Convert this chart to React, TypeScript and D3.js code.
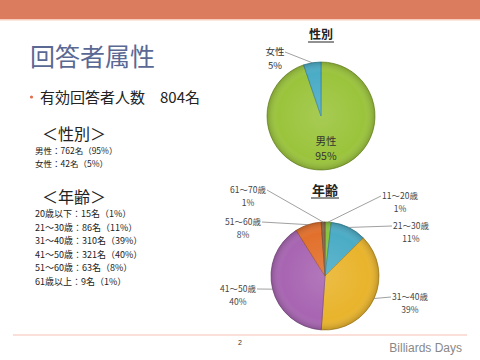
import * as d3 from "d3";

// slide text
const titleText = "回答者属性";
const bulletText = "有効回答者人数　804名";
const genderHead = "＜性別＞";
const ageHead = "＜年齢＞";
const genderSummary = ["男性：762名（95%）", "女性：42名（5%）"];
const ageSummary = [
  "20歳以下：15名（1%）",
  "21～30歳：86名（11%）",
  "31～40歳：310名（39%）",
  "41～50歳：321名（40%）",
  "51～60歳：63名（8%）",
  "61歳以上：9名（1%）",
];

// pie data
const genderLabels = ["男性", "女性"];
const genderCounts = [762, 42];
const genderPct = ["95%", "5%"];
const genderColors = ["#9BC43C", "#4BACC6"];

const ageLabels = ["11～20歳", "21～30歳", "31～40歳", "41～50歳", "51～60歳", "61～70歳"];
const ageCounts = [15, 86, 310, 321, 63, 9];
const agePct = ["1%", "11%", "39%", "40%", "8%", "1%"];
const ageColors = ["#86C441", "#4BACC6", "#E9B42C", "#A865B2", "#E2702C", "#8C6A4A"];

// label placement (layout only)
const ageLabelAt: [number, number, number][] = [
  [400, 199, -1],
  [411, 229, -1],
  [410, 300, -1],
  [238, 292, 1],
  [243, 225, 1],
  [248, 193, 1],
];

const JP = "'Noto Sans CJK JP', 'Noto Sans', sans-serif";
const R = 54;

function Pie({ cx, cy, counts, colors, id }) {
  const arcs = d3.pie<number>().sort(null).value((d) => d)(counts);
  const arc = d3.arc<d3.PieArcDatum<number>>().innerRadius(0).outerRadius(R);
  return (
    <g transform={`translate(${cx},${cy})`}>
      {arcs.map((a, i) => (
        <path
          key={i}
          d={arc(a) || ""}
          fill={colors[i]}
          stroke={d3.color(colors[i])!.darker(0.8).toString()}
          strokeWidth={0.8}
        />
      ))}
      <circle r={R} fill={`url(#${id})`} pointerEvents="none" />
    </g>
  );
}

export default function App() {
  const gcx = 321, gcy = 116;
  const acx = 325, acy = 276;
  const genderArcs = d3.pie<number>().sort(null).value((d) => d)(genderCounts);
  const ageArcs = d3.pie<number>().sort(null).value((d) => d)(ageCounts);
  const outer = (a: d3.PieArcDatum<number>, r: number) => {
    const m = (a.startAngle + a.endAngle) / 2;
    return [Math.sin(m) * r, -Math.cos(m) * r];
  };

  const [mx, my] = outer(genderArcs[0], 30);
  const [fx, fy] = outer(genderArcs[1], R);

  return (
    <svg width={480} height={360} style={{ position: "absolute", left: 0, top: 0 }}>
      <defs>
        {["shadeA", "shadeB"].map((id) => (
          <radialGradient key={id} id={id}>
            <stop offset="0%" stopColor="#fff" stopOpacity={0.12} />
            <stop offset="80%" stopColor="#fff" stopOpacity={0} />
            <stop offset="100%" stopColor="#000" stopOpacity={0.18} />
          </radialGradient>
        ))}
      </defs>
      <rect width={480} height={360} fill="#fff" />
      <rect width={480} height={19} fill="#DC7C5E" />
      <rect y={19} width={480} height={1.5} fill="#F7CDBE" />

      <text x={30} y={66} fontFamily={JP} fontSize={25} fill="#5A6894">{titleText}</text>
      <circle cx={31.5} cy={97} r={1.6} fill="#E0704E" />
      <text x={40} y={103} fontFamily={JP} fontSize={15} fill="#222">{bulletText}</text>

      <text x={42} y={140} fontFamily={JP} fontSize={16} fill="#222">{genderHead}</text>
      {genderSummary.map((t, i) => (
        <text key={t} x={35} y={154 + i * 13} fontFamily={JP} fontSize={8.5} fill="#222">{t}</text>
      ))}
      <text x={42} y={203} fontFamily={JP} fontSize={16} fill="#222">{ageHead}</text>
      {ageSummary.map((t, i) => (
        <text key={t} x={35} y={217 + i * 13.5} fontFamily={JP} fontSize={9} fill="#222">{t}</text>
      ))}

      {/* gender pie */}
      <text x={gcx} y={39} textAnchor="middle" fontFamily={JP} fontSize={12} fontWeight="bold" fill="#222">性別</text>
      <line x1={308} x2={334} y1={42} y2={42} stroke="#222" strokeWidth={1} />
      <Pie cx={gcx} cy={gcy} counts={genderCounts} colors={genderColors} id="shadeA" />
      <text x={gcx + mx} y={gcy + my - 1} textAnchor="middle" fontFamily={JP} fontSize={10.5} fill="#333">{genderLabels[0]}</text>
      <text x={gcx + mx} y={gcy + my + 14} textAnchor="middle" fontFamily={JP} fontSize={10.5} fill="#333">{genderPct[0]}</text>
      <line x1={285} y1={52} x2={gcx + fx} y2={gcy + fy} stroke="#888" strokeWidth={0.8} />
      <text x={275} y={55} textAnchor="middle" fontFamily={JP} fontSize={9.5} fill="#333">{genderLabels[1]}</text>
      <text x={275} y={69} textAnchor="middle" fontFamily={JP} fontSize={9.5} fill="#333">{genderPct[1]}</text>

      {/* age pie */}
      <text x={acx} y={195} textAnchor="middle" fontFamily={JP} fontSize={13} fontWeight="bold" fill="#222">年齢</text>
      <line x1={311} x2={339} y1={198} y2={198} stroke="#222" strokeWidth={1} />
      <Pie cx={acx} cy={acy} counts={ageCounts} colors={ageColors} id="shadeB" />
      {ageArcs.map((a, i) => {
        const [ox, oy] = outer(a, R);
        const [lx, ly, side] = ageLabelAt[i];
        return (
          <g key={i}>
            <line x1={acx + ox} y1={acy + oy} x2={lx + side * 19} y2={ly - 3} stroke="#888" strokeWidth={0.8} />
            <text x={lx} y={ly} textAnchor="middle" fontFamily={JP} fontSize={8.5} fill="#444">{ageLabels[i]}</text>
            <text x={lx} y={ly + 13} textAnchor="middle" fontFamily={JP} fontSize={8.5} fill="#444">{agePct[i]}</text>
          </g>
        );
      })}

      {/* footer */}
      <line x1={13} x2={467} y1={335} y2={335} stroke="#F6C1B2" strokeWidth={1.2} />
      <text x={240} y={345} textAnchor="middle" fontFamily="'Liberation Sans', Arial, sans-serif" fontSize={7} fill="#333">2</text>
      <text x={462} y={352} textAnchor="end" fontFamily="'Liberation Sans', Arial, sans-serif" fontSize={12} fill="#888">Billiards Days</text>
    </svg>
  );
}
